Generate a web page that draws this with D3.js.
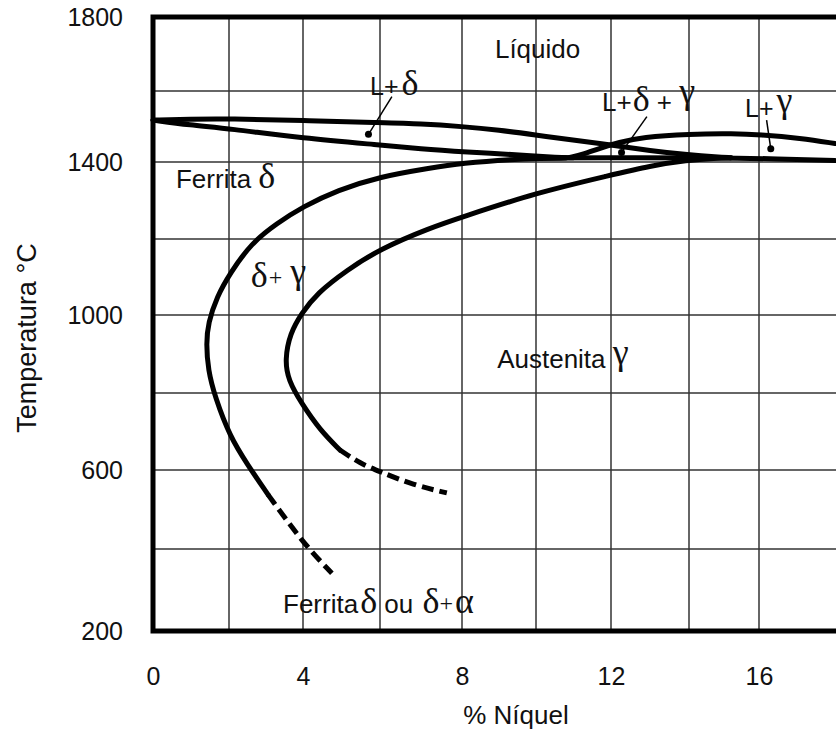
<!DOCTYPE html>
<html>
<head>
<meta charset="utf-8">
<script src="https://cdn.jsdelivr.net/npm/d3@7/dist/d3.min.js"></script>
<style>
body { margin: 0; background: #fff; }
svg text { font-family: "Liberation Sans", Arial, sans-serif; fill: #111; }
</style>
</head>
<body>
<svg id="chart"></svg>
<script>

//grid values, % niquel and temperatura//

var xGrid = [0, 2, 4, 6, 8, 10, 12, 14, 16, 18];
var yGrid = [200, 400, 600, 800, 1000, 1200, 1400, 1600, 1800];
var xTicks = [0, 4, 8, 12, 16];
var yTicks = [200, 600, 1000, 1400, 1800];

//phase boundaries [%Ni, T]//

var liquidusDelta = [[0,1518],[0.97,1521],[2,1522],[4,1517],[6,1511],[7,1508],[8,1500],[9,1490],[10,1476],[10.9,1463],[12,1448],[13,1432],[14,1420],[14.8,1414],[15.2,1412]];
var solidusDelta = [[0,1518],[0.97,1504],[2,1494],[4,1467],[6,1448],[7,1437],[8,1429],[10,1417],[10.5,1413],[11,1412]];
var solidusGamma = [[9.5,1411],[12,1412],[14.8,1412],[16.5,1409],[18,1404]];
var liquidusGamma = [[10.9,1413],[11.25,1421],[11.7,1439],[12.2,1455],[12.8,1470],[14,1479],[15.3,1480],[16,1477],[17.1,1467],[18,1452]];
var deltaSolvus = [[10.8,1411],[10.1,1410],[9.4,1408],[8,1397],[7.2,1384],[6,1362],[4.9,1327],[4,1284],[3.3,1241],[2.6,1189],[2.03,1110],[1.68,1048],[1.45,979],[1.4,927],[1.45,859],[1.63,790],[2.03,686],[2.48,617],[3.06,537]];
var deltaSolvusDash = [[3.06,537],[4.01,414],[4.75,341]];
var gammaSolvus = [[15.2,1412],[14.77,1411],[13.95,1405],[13,1390],[12,1366],[10,1320],[8,1257],[7.22,1229],[6,1174],[5.14,1118],[4.36,1057],[3.96,1004],[3.65,953],[3.51,885],[3.6,833],[3.96,773],[4.44,704],[4.96,652]];
var gammaSolvusDash = [[4.96,652],[5.48,617],[6,596],[6.81,562],[7.63,542]];

//dots with their pointer lines//

var dots = [[5.70,1478],[12.27,1427],[16.31,1437]];
var pointerEnds = [[6.29,1584],[12.92,1528],[16.2,1518]];

//region names, [%Ni, T] is the left end of the text baseline//

var labelPos = [[8.89,1689],[5.74,1589],[11.76,1544],[15.6,1527],[0.605,1332],[2.59,1074],[8.95,864],[3.46,244]];
var labelText = [
  [["Líquido","s",26]],
  [["L+","s",25],["δ","g",36,3,0]],
  [["L+","s",26],["δ","g",36,1,0],[" + ","s",26],["γ","g",36,0,-8]],
  [["L+","s",25],["γ","g",36,3,-5]],
  [["Ferrita ","s",26],["δ","g",36,0,0]],
  [["δ","g",36,0,0],["+","g",24,1,-2],["γ","g",36,8,-2]],
  [["Austenita ","s",26],["γ","g",36,0,-4]],
  [["Ferrita","s",26],["δ","g",36,2,0],[" ou ","s",26],["δ","g",36,2,0],["+","g",24,0,-2],["α","g",36,2,2]]
];

var screen = {width: 836, height: 733};

//the drawn grid in the source is not evenly spaced, so scales are piecewise//
var gridXpx = [153, 229, 303, 380, 462, 536, 611, 689, 759, 835];
var gridYpx = [631, 549, 470, 393, 315, 239, 162, 91, 17];

var x = d3.scaleLinear().domain(xGrid).range(gridXpx);
var y = d3.scaleLinear().domain(yGrid).range(gridYpx);

var svg = d3.select("#chart")
            .attr("width", screen.width)
            .attr("height", screen.height);

//grid//
svg.append("g")
   .selectAll("line")
   .data(xGrid.slice(1, 9))
   .enter()
   .append("line")
   .attr("x1", function(d){ return x(d); })
   .attr("x2", function(d){ return x(d); })
   .attr("y1", y(200))
   .attr("y2", y(1800))
   .attr("stroke", "#333")
   .attr("stroke-width", 1.5);

svg.append("g")
   .selectAll("line")
   .data(yGrid.slice(1, 8))
   .enter()
   .append("line")
   .attr("x1", x(0))
   .attr("x2", screen.width)
   .attr("y1", function(d){ return y(d); })
   .attr("y2", function(d){ return y(d); })
   .attr("stroke", "#333")
   .attr("stroke-width", 1.5);

//curves, basis smooths out the reading noise//
var line = d3.line()
             .x(function(d){ return x(d[0]); })
             .y(function(d){ return y(d[1]); })
             .curve(d3.curveBasis);

var solid = [liquidusDelta, solidusDelta, solidusGamma, liquidusGamma, deltaSolvus, gammaSolvus];
svg.append("g")
   .selectAll("path")
   .data(solid)
   .enter()
   .append("path")
   .attr("d", line)
   .attr("fill", "none")
   .attr("stroke", "#000")
   .attr("stroke-width", 5)
   .attr("stroke-linecap", "round");

svg.append("g")
   .selectAll("path")
   .data([deltaSolvusDash, gammaSolvusDash])
   .enter()
   .append("path")
   .attr("d", line)
   .attr("fill", "none")
   .attr("stroke", "#000")
   .attr("stroke-width", 5)
   .attr("stroke-dasharray", "12,6");

//frame: top, left, bottom//
svg.append("path")
   .attr("d", "M" + screen.width + "," + y(1800) + "H" + x(0) + "V" + y(200) + "H" + screen.width)
   .attr("fill", "none")
   .attr("stroke", "#000")
   .attr("stroke-width", 5)
   .attr("stroke-linejoin", "miter");

//pointers//
svg.append("g")
   .selectAll("line")
   .data(dots)
   .enter()
   .append("line")
   .attr("x1", function(d){ return x(d[0]); })
   .attr("y1", function(d){ return y(d[1]); })
   .attr("x2", function(d, i){ return x(pointerEnds[i][0]); })
   .attr("y2", function(d, i){ return y(pointerEnds[i][1]); })
   .attr("stroke", "#000")
   .attr("stroke-width", 1.5);

svg.append("g")
   .selectAll("circle")
   .data(dots)
   .enter()
   .append("circle")
   .attr("cx", function(d){ return x(d[0]); })
   .attr("cy", function(d){ return y(d[1]); })
   .attr("r", 3.5)
   .attr("fill", "#000");

//axes//
var xAxis = d3.axisBottom(x).tickValues(xTicks).tickSize(0).tickPadding(36).tickFormat(d3.format("d"));
var yAxis = d3.axisLeft(y).tickValues(yTicks).tickSize(0).tickPadding(30).tickFormat(d3.format("d"));

var gx = svg.append("g")
            .attr("transform", "translate(0," + y(200) + ")")
            .call(xAxis);
var gy = svg.append("g")
            .attr("transform", "translate(" + x(0) + ",0)")
            .call(yAxis);

[gx, gy].forEach(function(g)
  {
  g.select(".domain").remove();
  g.selectAll("text")
   .attr("font-size", 25)
   .attr("font-family", "Liberation Sans, Arial, sans-serif")
   .attr("fill", "#111");
  });

svg.append("text")
   .attr("x", 516)
   .attr("y", 724)
   .attr("text-anchor", "middle")
   .attr("font-size", 26)
   .text("% Níquel");

svg.append("text")
   .attr("transform", "translate(36,338) rotate(-90)")
   .attr("text-anchor", "middle")
   .attr("font-size", 27)
   .text("Temperatura °C");

//region labels//
var labels = svg.append("g")
                .selectAll("text")
                .data(labelPos)
                .enter()
                .append("text")
                .attr("x", function(d){ return x(d[0]); })
                .attr("y", function(d){ return y(d[1]); });

labels.each(function(d, i)
  {
  var t = d3.select(this);
  labelText[i].forEach(function(p)
    {
    t.append("tspan")
     .attr("font-family", p[1] == "g" ? "Liberation Serif, Times New Roman, serif" : "Liberation Sans, Arial, sans-serif")
     .attr("font-size", p[2])
     .attr("dx", p[3] || 0)
     .attr("dy", p[4] || 0)
     .attr("xml:space", "preserve")
     .text(p[0]);
    });
  });

</script>
</body>
</html>
